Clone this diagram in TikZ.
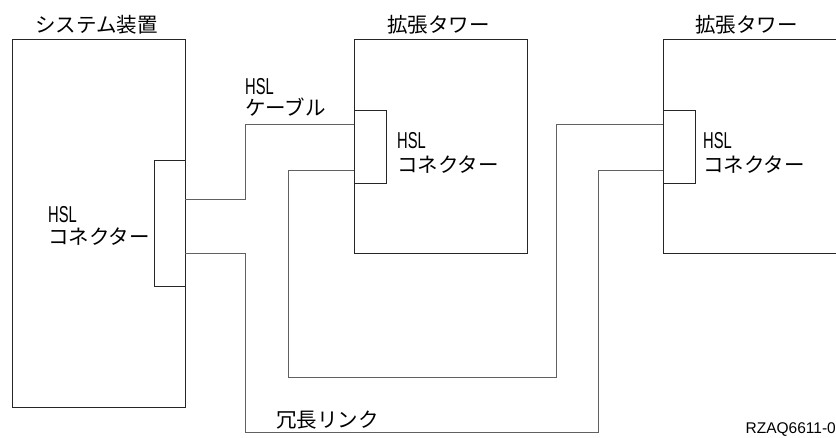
\documentclass[tikz,border=0pt]{standalone}
\usepackage{fontspec}
\usepackage{graphicx}
\newfontfamily\jpfont{Noto Sans CJK JP}
\newfontfamily\latfont{Liberation Sans}
\newcommand{\hslt}{\scalebox{0.64}[1]{\latfont\fontsize{23}{23}\selectfont HSL}}
\tikzset{
  box/.style={draw=black!85, line width=1.1pt, rectangle, inner sep=0pt, anchor=north west},
  cable/.style={draw=black!62, line width=1pt},
  jp/.style={font=\jpfont\fontsize{20.5}{20.5}\selectfont, inner sep=0pt, anchor=base west},
  hsl/.style={inner sep=0pt, anchor=base west},
  fig/.style={font=\latfont\fontsize{15.5}{15.5}\selectfont, inner sep=0pt, anchor=base east}
}
\begin{document}
\begin{tikzpicture}[x=1pt,y=-1pt]
\useasboundingbox (0,0) rectangle (836,437);
\clip (0,0) rectangle (836,437);
% boxes
\node[box, minimum width=173pt, minimum height=368pt] (sys) at (12,39) {};
\node[box, minimum width=31pt, minimum height=126pt] (sysc) at (154,160) {};
\node[box, minimum width=173pt, minimum height=214pt] (t1) at (354,39) {};
\node[box, minimum width=32pt, minimum height=73pt] (t1c) at (354,110) {};
\node[box, minimum width=200pt, minimum height=214pt] (t2) at (663,39) {};
\node[box, minimum width=32pt, minimum height=73pt] (t2c) at (663,110) {};
% connection points
\coordinate (sysA) at (185,199);
\coordinate (sysB) at (185,253);
\coordinate (t1A) at (354,124);
\coordinate (t1B) at (354,170);
\coordinate (t2A) at (663,124);
\coordinate (t2B) at (663,170);
% cables
\draw[cable] (sysA) -- (245,199) -- (245,124) -- (t1A);
\draw[cable] (t1B) -- (288,170) -- (288,377) -- (556,377) -- (556,124) -- (t2A);
\draw[cable] (sysB) -- (245,253) -- (245,432) -- (598,432) -- (598,170) -- (t2B);
% labels
\node[jp] (lsys) at (35,32) {システム装置};
\node[jp] (lt1) at (387,32) {拡張タワー};
\node[jp] (lt2) at (695,32) {拡張タワー};
\node[hsl] (lcabh) at (245,94) {\hslt};
\node[jp] (lcab) at (245,115) {ケーブル};
\node[hsl] (lsysh) at (48,222) {\hslt};
\node[jp] (lsysc) at (48,244) {コネクター};
\node[hsl] (lt1h) at (397,148) {\hslt};
\node[jp] (lt1c) at (397,172) {コネクター};
\node[hsl] (lt2h) at (703,148) {\hslt};
\node[jp] (lt2c) at (703,172) {コネクター};
\node[jp] (lred) at (276,427) {冗長リンク};
\node[fig] (fid) at (836,433) {RZAQ6611-0};
\end{tikzpicture}
\end{document}
